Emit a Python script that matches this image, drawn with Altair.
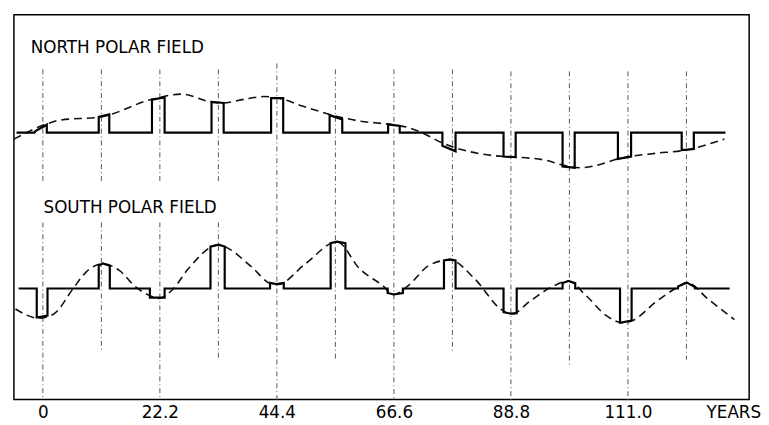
import altair as alt
import pandas as pd

# ---------------- values ----------------
# x in years; field strength in arbitrary units (0 = baseline of each panel)
CYCLE_YEARS = [0.0, 11.1, 22.2, 33.3, 44.4, 55.5, 66.6, 77.7, 88.8, 99.9, 111.0, 122.1]
AXIS_TICK_YEARS = [0.0, 22.2, 44.4, 66.6, 88.8, 111.0]
UNIT_LABEL = "YEARS"
PANEL_TITLES = ["NORTH POLAR FIELD", "SOUTH POLAR FIELD"]

# North polar field: step curve (reversals) and dashed trend
NORTH_STEP_YEAR = [-5.0, -1.6, -1.4, 0.75, 0.75,
                   10.6, 10.6, 12.6, 12.6,
                   20.7, 20.7, 23.1, 23.1,
                   32.0, 32.0, 34.3, 34.3,
                   43.3, 43.3, 45.6, 45.6,
                   54.4, 54.4, 56.8, 56.8,
                   65.5, 65.5, 67.7, 67.7,
                   75.8, 75.8, 78.3, 78.3,
                   87.4, 87.4, 89.7, 89.7,
                   98.6, 98.6, 100.9, 100.9,
                   109.1, 109.1, 111.6, 111.6,
                   121.2, 121.2, 123.5, 123.5, 129.5]
NORTH_STEP_FIELD = [0, 0, 1.5, 8.0, 0,
                    0, 16.0, 18.4, 0,
                    0, 33.4, 35.7, 0,
                    0, 31.0, 30.0, 0,
                    0, 35.0, 35.0, 0,
                    0, 17.7, 13.4, 0,
                    0, 8.4, 6.7, 0,
                    0, -13.3, -19.0, 0,
                    0, -24.3, -24.8, 0,
                    0, -34.3, -35.6, 0,
                    0, -26.6, -24.3, 0,
                    0, -17.6, -16.6, 0, 0]
NORTH_TREND_YEAR = [-5.5, 0.7, 3.3, 10.8, 20.7, 26.3, 32.0, 33.8, 38.5, 41.9, 45.0,
                    49.4, 54.4, 60.1, 65.7, 69.4, 71.9, 75.6, 83.1, 87.6, 90.0,
                    95.6, 98.4, 101.8, 105.0, 109.1, 116.2, 121.3, 129.3]
NORTH_TREND_FIELD = [-6.6, 8.7, 12.7, 15.7, 33.7, 39.0, 31.0, 30.0, 34.0, 36.5, 34.5,
                     26.7, 18.4, 11.7, 8.4, 5.0, 0.0, -10.0, -21.6, -24.3, -25.0,
                     -28.3, -32.6, -35.6, -33.3, -26.6, -21.0, -18.3, -6.6]

# South polar field
SOUTH_STEP_YEAR = [-4.6, -1.16, -1.16, 0.88, 0.88,
                   10.6, 10.6, 11.4, 12.7, 12.7,
                   20.3, 20.3, 23.1, 23.1,
                   31.8, 31.8, 33.3, 34.5, 34.5,
                   43.1, 43.1, 44.3, 45.7, 45.7,
                   54.6, 54.6, 55.8, 57.4, 57.4,
                   65.4, 65.4, 66.6, 68.3, 68.3,
                   76.1, 76.1, 77.2, 78.3, 78.3,
                   87.4, 87.4, 88.8, 89.9, 89.9,
                   98.6, 98.6, 99.7, 101.0, 101.0,
                   109.5, 109.5, 111.7, 111.7,
                   120.5, 120.5, 122.2, 123.7, 123.7, 130.3]
SOUTH_STEP_FIELD = [0, 0, -29.3, -27.3, 0,
                    0, 23.0, 25.5, 23.0, 0,
                    0, -9.3, -9.3, 0,
                    0, 42.5, 44.5, 42.5, 0,
                    0, 5.7, 4.5, 5.7, 0,
                    0, 46.0, 47.5, 46.0, 0,
                    0, -4.5, -6.0, -4.5, 0,
                    0, 28.5, 29.5, 28.5, 0,
                    0, -24.0, -25.5, -25.0, 0,
                    0, 5.5, 7.6, 5.5, 0,
                    0, -34.7, -32.4, 0,
                    0, 2.0, 6.0, 1.5, 0, 0]
SOUTH_TREND_YEAR = [-5.2, -0.8, 2.0, 5.75, 8.2, 11.4, 14.5, 17.6, 20.1, 22.0, 24.5,
                    27.6, 33.2, 39.5, 43.2, 44.5, 49.8, 55.8, 60.1, 64.4, 66.6,
                    69.4, 73.2, 77.2, 81.9, 86.9, 88.9, 92.5, 96.9, 99.7, 103.1,
                    106.9, 110.0, 111.9, 116.2, 120.0, 122.2, 126.2, 131.2]
SOUTH_TREND_FIELD = [-20.7, -30.0, -26.0, 0.0, 16.7, 25.0, 18.3, 1.7, -6.7, -10.0, -1.7,
                     20.0, 44.0, 22.5, 5.0, 4.0, 25.0, 47.3, 20.0, 3.3, -6.0,
                     3.3, 23.3, 29.0, 10.0, -21.0, -26.0, -12.4, 2.6, 7.6, -7.4,
                     -27.4, -34.7, -32.4, -14.0, 0.0, 6.0, -10.7, -31.4]

# dash-dot cycle guide segments (year, top, bottom) in the stacked frame
GUIDE_YEAR = [0.0, 0.0, 11.1, 11.1, 22.2, 22.2, 33.3, 33.3,
              44.4, 55.5, 66.6, 77.7, 88.8, 99.9, 111.0, 122.1]
GUIDE_TOP = [64, -91, 64, -91, 64, -91, 64, -91,
             70, 64, 64, 64, 62, 62, 62, 62]
GUIDE_BOTTOM = [-51, -271, -51, -223, -51, -271, -51, -231,
                -271, -230, -271, -223, -271, -238, -271, -230]

# ---------------- layout constants ----------------
SOUTH_OFFSET = -158.0
X_DOMAIN = [-5.49, 134.0]
Y_DOMAIN = [-270.5, 119.5]

assert len(NORTH_STEP_YEAR) == len(NORTH_STEP_FIELD)
assert len(SOUTH_STEP_YEAR) == len(SOUTH_STEP_FIELD)
assert len(NORTH_TREND_YEAR) == len(NORTH_TREND_FIELD)
assert len(SOUTH_TREND_YEAR) == len(SOUTH_TREND_FIELD)


def frame(years, fields, series, offset):
    return pd.DataFrame({
        "year": years,
        "field": fields,
        "series": series,
        "i": list(range(len(years))),
        "y": [f + offset for f in fields],
    })


steps = pd.concat([
    frame(NORTH_STEP_YEAR, NORTH_STEP_FIELD, "north", 0.0),
    frame(SOUTH_STEP_YEAR, SOUTH_STEP_FIELD, "south", SOUTH_OFFSET),
])
trends = pd.concat([
    frame(NORTH_TREND_YEAR, NORTH_TREND_FIELD, "north", 0.0),
    frame(SOUTH_TREND_YEAR, SOUTH_TREND_FIELD, "south", SOUTH_OFFSET),
])
guides = pd.DataFrame({"year": GUIDE_YEAR, "top": GUIDE_TOP, "bottom": GUIDE_BOTTOM})

tick_values = AXIS_TICK_YEARS + [131.0]

x_enc = alt.X(
    "year:Q",
    scale=alt.Scale(domain=X_DOMAIN, nice=False, zero=False),
    axis=alt.Axis(
        values=tick_values,
        labelExpr=f"datum.value > 120 ? '{UNIT_LABEL}' : (datum.value == 0 ? '0' : format(datum.value, '.1f'))",
        domain=False, ticks=False, grid=False, title=None,
        labelFont="DejaVu Sans", labelFontSize=17, labelColor="black",
        labelPadding=5, labelFlush=False, labelOverlap=False,
    ),
)
y_scale = alt.Scale(domain=Y_DOMAIN, nice=False, zero=False)

guide_layer = alt.Chart(guides).mark_rule(
    color="#555555", strokeWidth=1, strokeDash=[5, 3, 1, 3]
).encode(
    x=x_enc,
    y=alt.Y("top:Q", scale=y_scale, axis=None),
    y2="bottom:Q",
)

trend_layer = alt.Chart(trends).mark_line(
    color="#111111", strokeWidth=1.6, strokeDash=[8, 5], interpolate="monotone"
).encode(
    x=x_enc,
    y=alt.Y("y:Q", scale=y_scale, axis=None),
    detail="series:N",
    order="i:Q",
)

step_layer = alt.Chart(steps).mark_line(
    color="black", strokeWidth=2.2, strokeJoin="miter"
).encode(
    x=x_enc,
    y=alt.Y("y:Q", scale=y_scale, axis=None),
    detail="series:N",
    order="i:Q",
)

north_title = alt.Chart(pd.DataFrame({"label": [PANEL_TITLES[0]]})).mark_text(
    align="left", baseline="middle", font="DejaVu Sans", fontSize=17, color="black"
).encode(x=alt.value(17), y=alt.value(34), text="label:N")

south_title = alt.Chart(pd.DataFrame({"label": [PANEL_TITLES[1]]})).mark_text(
    align="left", baseline="middle", font="DejaVu Sans", fontSize=17, color="black"
).encode(x=alt.value(30), y=alt.value(196), text="label:N")

chart = alt.layer(guide_layer, trend_layer, step_layer, north_title, south_title).properties(
    width=745, height=390,
    padding={"left": 2, "top": 4, "right": 0, "bottom": 0},
    background="white",
).configure_view(stroke="black", strokeWidth=1.5)

chart.save("out.html", embed_options={"renderer": "svg", "actions": False})
